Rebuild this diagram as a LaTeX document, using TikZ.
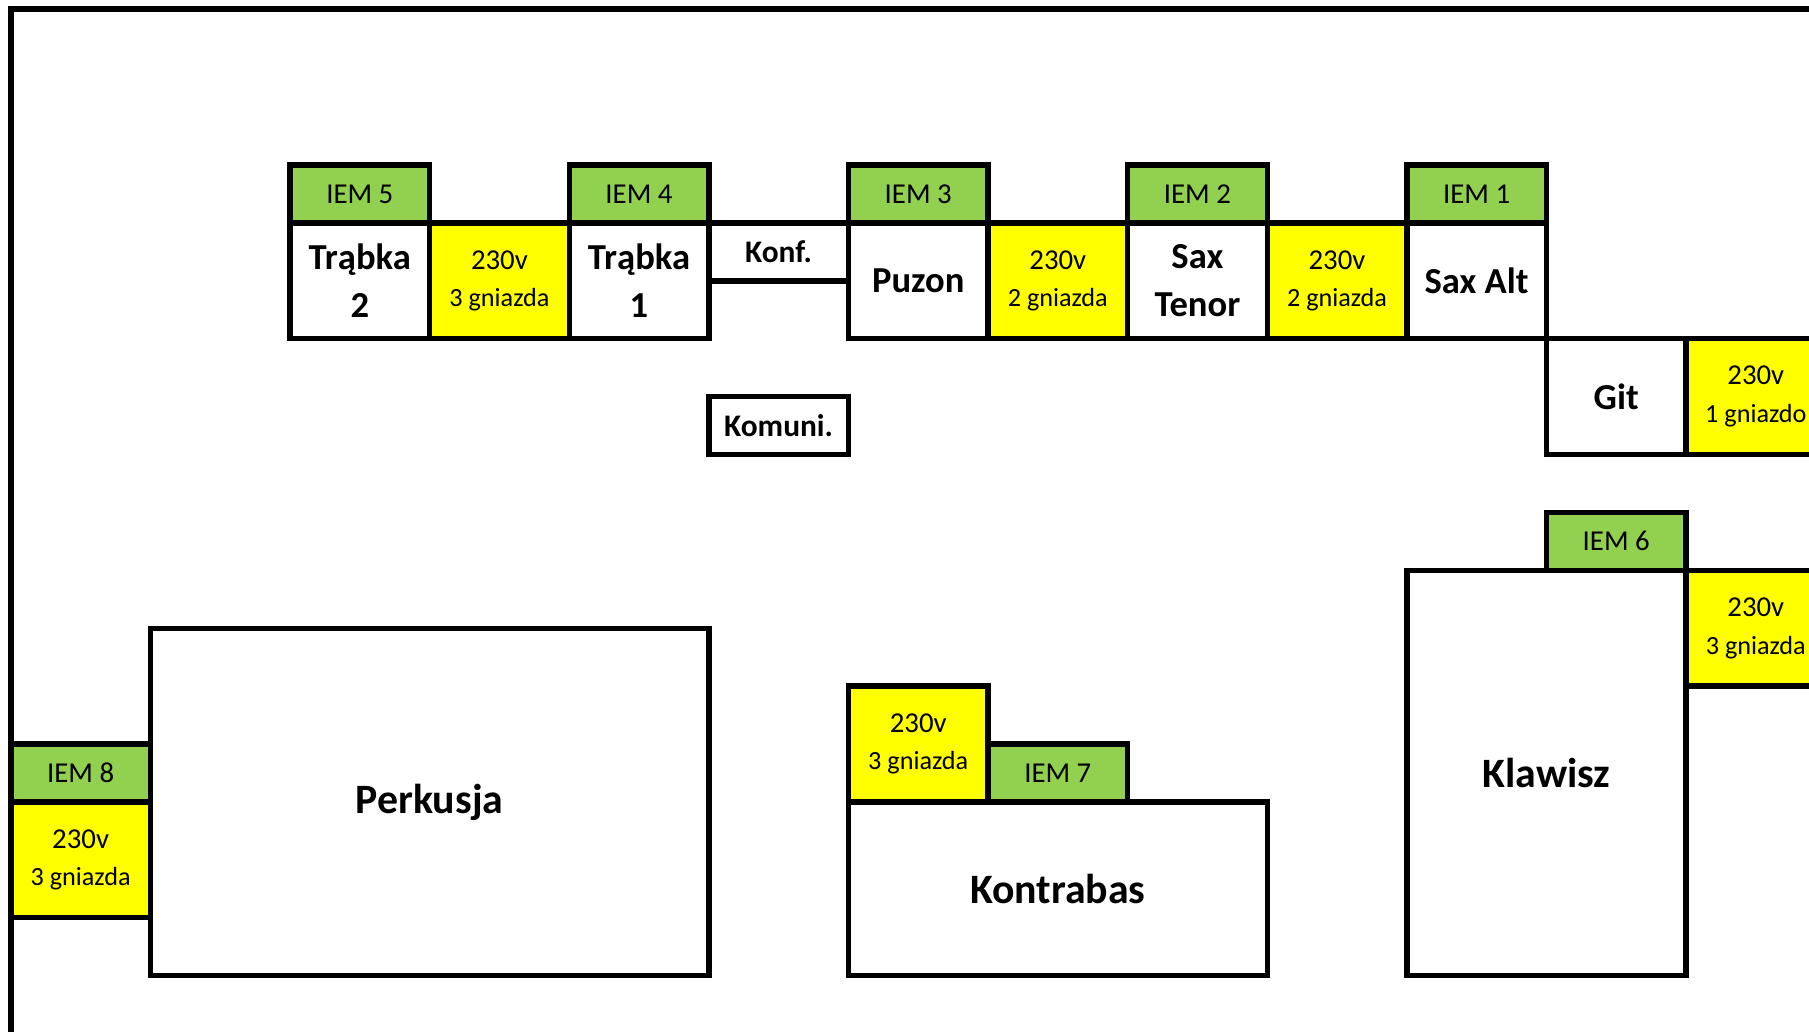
\documentclass[tikz,border=0pt]{standalone}
\usepackage{fontspec}
\setmainfont{Carlito}
\usepackage{xcolor}
\usetikzlibrary{positioning}

\definecolor{iemgreen}{HTML}{92D050}
\definecolor{plugyellow}{HTML}{FFFF00}

\newcommand{\sockets}{\fontsize{13.1}{18.8}\selectfont}

\begin{document}
\begin{tikzpicture}[
    x=69.8pt, y=-28.95pt,
    cell/.style={draw, line width=2.7pt, inner sep=0pt, outer sep=0pt, minimum width=69.8pt, minimum height=28.95pt, align=center},
    iem/.style={cell, fill=iemgreen, font=\fontsize{14.4}{17}\selectfont},
    plug/.style={cell, fill=plugyellow, minimum height=57.9pt, font=\fontsize{14.4}{18.8}\selectfont},
    instr/.style={cell, fill=white, minimum height=57.9pt, font=\bfseries\fontsize{18.3}{24}\selectfont},
    smallbox/.style={cell, fill=white, font=\bfseries\fontsize{15.7}{19}\selectfont},
    area/.style={cell, fill=white, font=\bfseries\fontsize{20.9}{25}\selectfont},
    frame/.style={line width=2.7pt}
]
    \useasboundingbox (-0.0774,-2.8497) rectangle (12.881,14.957);
    \clip (-0.0774,-2.8497) rectangle (12.881,14.957);

    % stage border
    \draw[frame] (0,16) -- (0,-2.694) -- (14,-2.694);

    % front line: winds
    \node[iem, anchor=north west] (iem5) at (2,0) {IEM 5};
    \node[instr, below=0pt of iem5] (trabka2) {Trąbka\\2};
    \node[plug, right=0pt of trabka2] (plugA) {230v\\\sockets 3 gniazda};
    \node[instr, right=0pt of plugA] (trabka1) {Trąbka\\1};
    \node[iem, above=0pt of trabka1] (iem4) {IEM 4};
    \node[smallbox, anchor=north west] (konf) at (trabka1.north east) {Konf.};
    \node[instr, right=69.8pt of trabka1] (puzon) {Puzon};
    \node[iem, above=0pt of puzon] (iem3) {IEM 3};
    \node[plug, right=0pt of puzon] (plugB) {230v\\\sockets 2 gniazda};
    \node[instr, right=0pt of plugB] (saxtenor) {Sax\\Tenor};
    \node[iem, above=0pt of saxtenor] (iem2) {IEM 2};
    \node[plug, right=0pt of saxtenor] (plugC) {230v\\\sockets 2 gniazda};
    \node[instr, right=0pt of plugC] (saxalt) {Sax Alt};
    \node[iem, above=0pt of saxalt] (iem1) {IEM 1};

    % guitar
    \node[instr, anchor=north west] (git) at (saxalt.south east) {Git};
    \node[plug, right=0pt of git] (plugD) {230v\\\sockets 1 gniazdo};

    \node[smallbox, below=57.9pt of konf] (komuni) {Komuni.};

    % keys
    \node[area, minimum width=139.6pt, minimum height=202.65pt, anchor=north west] (klawisz) at (10,7) {Klawisz};
    \node[iem, anchor=south east] (iem6) at (klawisz.north east) {IEM 6};
    \node[plug, anchor=north west] (plugE) at (klawisz.north east) {230v\\\sockets 3 gniazda};

    % drums
    \node[area, minimum width=279.2pt, minimum height=173.7pt, anchor=north west] (perkusja) at (1,8) {Perkusja};
    \node[iem, anchor=south east] (iem8) at (perkusja.west) {IEM 8};
    \node[plug, below=0pt of iem8] (plugG) {230v\\\sockets 3 gniazda};

    % bass
    \node[area, minimum width=209.4pt, minimum height=86.85pt, anchor=north west] (kontrabas) at (6,11) {Kontrabas};
    \node[plug, anchor=south west] (plugF) at (kontrabas.north west) {230v\\\sockets 3 gniazda};
    \node[iem, anchor=south west] (iem7) at (plugF.south east) {IEM 7};

\end{tikzpicture}
\end{document}
